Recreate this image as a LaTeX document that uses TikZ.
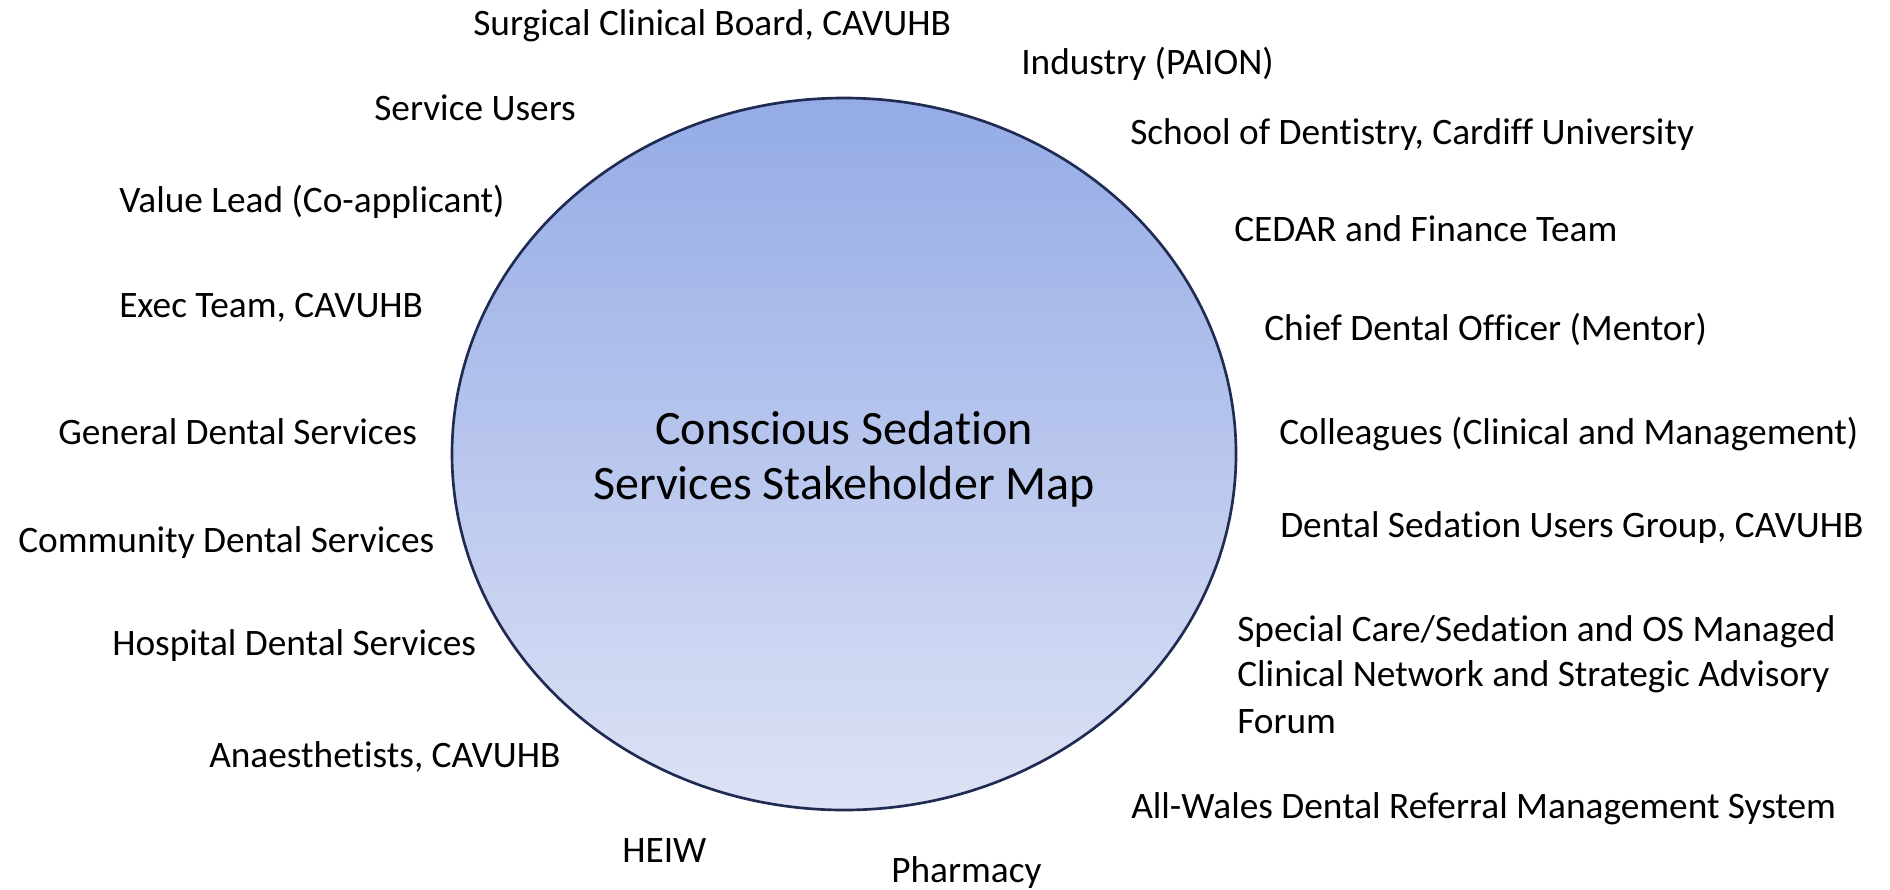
\documentclass[tikz,border=0pt]{standalone}
\usepackage{fontspec}
\setmainfont[Ligatures=NoCommon]{Carlito}
\definecolor{topblue}{HTML}{94ABE6}
\definecolor{botblue}{HTML}{DDE2F5}
\definecolor{edgeblue}{HTML}{1F2B52}
\begin{document}
\begin{tikzpicture}[x=0.75pt,y=-0.75pt,
  lbl/.style={anchor=west,inner sep=0pt,font=\fontsize{28}{34}\selectfont,align=left},
  title/.style={inner sep=0pt,font=\fontsize{36}{44}\selectfont,align=center}]
\useasboundingbox (0,0) rectangle (1890,889);
\shade[top color=topblue,bottom color=botblue,draw=edgeblue,line width=2pt] (844,454) ellipse [x radius=392,y radius=356];
\node[title] (t1) at (844,428) {Conscious Sedation};
\node[title] (t2) at (844,487) {Services Stakeholder Map};
\node[lbl] (a) at (473,26) {Surgical Clinical Board, CAVUHB};
\node[lbl] (b) at (1021,64) {Industry (PAION)};
\node[lbl] (c) at (374,108) {Service Users};
\node[lbl] (d) at (1130,135) {School of Dentistry, Cardiff University};
\node[lbl] (e) at (119,202) {Value Lead (Co-applicant)};
\node[lbl] (f) at (1234,229) {CEDAR and Finance Team};
\node[lbl] (g) at (119,308) {Exec Team, CAVUHB};
\node[lbl] (h) at (1264,329) {Chief Dental Officer (Mentor)};
\node[lbl] (i) at (58,432) {General Dental Services};
\node[lbl] (j) at (1279,434) {Colleagues (Clinical and Management)};
\node[lbl] (k) at (18,543) {Community Dental Services};
\node[lbl] (l) at (1280,528) {Dental Sedation Users Group, CAVUHB};
\node[lbl] (m) at (112,646) {Hospital Dental Services};
\node[lbl] (n) at (1237,632) {Special Care/Sedation and OS Managed};
\node[lbl] (n2) at (1237,677) {Clinical Network and Strategic Advisory};
\node[lbl] (n3) at (1237,722) {Forum};
\node[lbl] (o) at (209,757) {Anaesthetists, CAVUHB};
\node[lbl] (p) at (1131,809) {All-Wales Dental Referral Management System};
\node[lbl] (q) at (622,851) {HEIW};
\node[lbl] (r) at (891,873) {Pharmacy};
\end{tikzpicture}
\end{document}
